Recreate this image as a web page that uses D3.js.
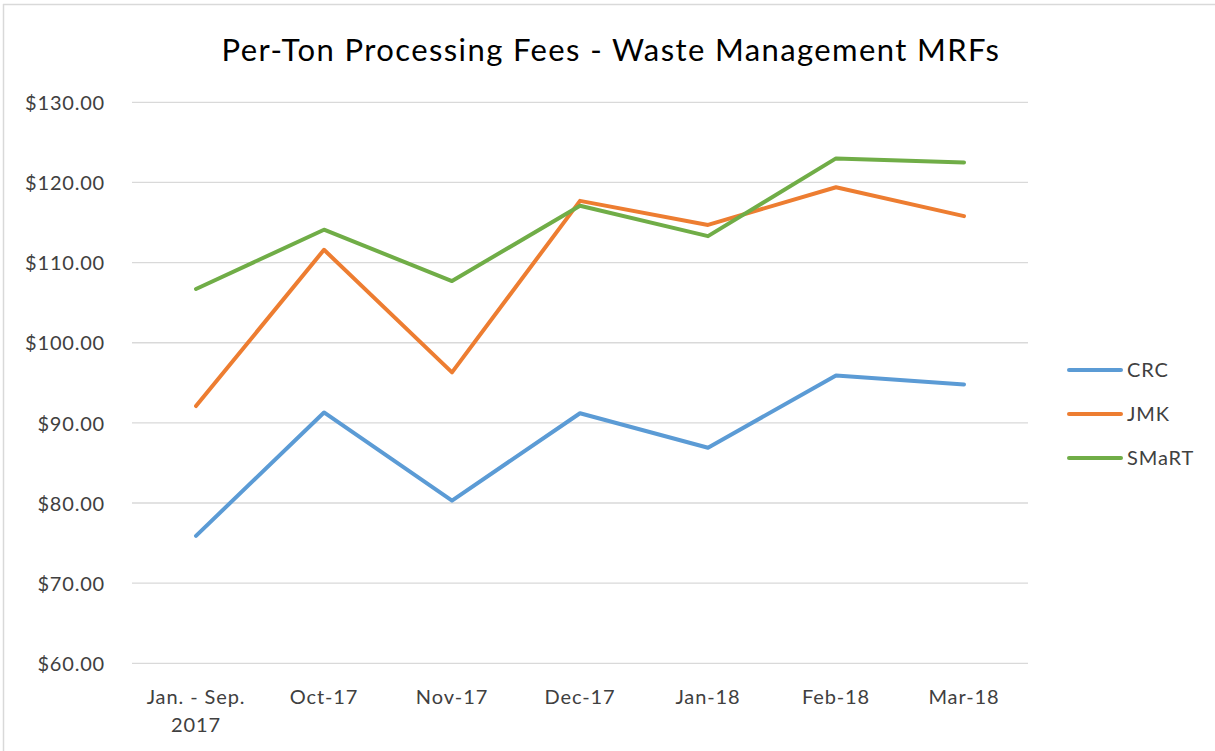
<!DOCTYPE html>
<html>
<head>
<meta charset="utf-8">
<script src="https://cdn.jsdelivr.net/npm/d3@7"></script>
<style>
  html, body { margin: 0; padding: 0; background: #fff; }
  svg { display: block; }
  text { font-family: Lato, "Open Sans", sans-serif; }
</style>
</head>
<body>
<svg id="chart" width="1215" height="751"></svg>
<script>
const title = "Per-Ton Processing Fees - Waste Management MRFs";
const categories = ["Jan. - Sep.\n2017", "Oct-17", "Nov-17", "Dec-17", "Jan-18", "Feb-18", "Mar-18"];
const seriesNames = ["CRC", "JMK", "SMaRT"];
const crc   = [75.9, 91.3, 80.3, 91.2, 86.9, 95.9, 94.8];
const jmk   = [92.1, 111.6, 96.3, 117.7, 114.7, 119.4, 115.8];
const smart = [106.7, 114.1, 107.7, 117.1, 113.3, 123.0, 122.5];
const yTicks = [60, 70, 80, 90, 100, 110, 120, 130];
const colors = ["#5B9BD5", "#ED7D31", "#70AD47"];

const seriesData = [crc, jmk, smart];
const svg = d3.select("#chart");
const W = 1215, H = 751;
const plot = { left: 132, right: 1028, top: 102.3, bottom: 663.3 };
const labelColor = "#404040";

// outer frame (top + left edges visible)
svg.append("line").attr("x1", 3).attr("x2", W).attr("y1", 4.5).attr("y2", 4.5)
  .attr("stroke", "#d9d9d9").attr("stroke-width", 1.5);
svg.append("line").attr("x1", 3.5).attr("x2", 3.5).attr("y1", 4).attr("y2", H)
  .attr("stroke", "#d9d9d9").attr("stroke-width", 1.5);

const x = d3.scaleBand().domain(d3.range(categories.length)).range([plot.left, plot.right]);
const y = d3.scaleLinear().domain([60, 130]).range([plot.bottom, plot.top]);

// gridlines
svg.append("g").selectAll("line").data(yTicks).join("line")
  .attr("x1", plot.left).attr("x2", plot.right)
  .attr("y1", d => y(d)).attr("y2", d => y(d))
  .attr("stroke", "#d9d9d9").attr("stroke-width", 1.3);

// y axis
const yAxis = d3.axisLeft(y).tickValues(yTicks).tickSize(0).tickPadding(0)
  .tickFormat(d => "$" + d3.format(".2f")(d));
const gy = svg.append("g").attr("transform", `translate(105,0)`).call(yAxis);
gy.select(".domain").remove();
gy.selectAll("text").attr("fill", labelColor).style("font-size", "20px")
  .style("letter-spacing", "0.8px")
  .style("font-family", "Lato, 'Open Sans', sans-serif").attr("dy", "0.36em");

// x axis
const xAxis = d3.axisBottom(x).tickSize(0).tickFormat(() => "");
const gx = svg.append("g").attr("transform", `translate(0,${plot.bottom})`).call(xAxis);
gx.select(".domain").remove();
gx.selectAll(".tick").each(function(d) {
  const lines = categories[d].split("\n");
  const t = d3.select(this).append("text").attr("fill", labelColor)
    .attr("text-anchor", "middle").style("font-size", "20px").style("letter-spacing", "0.9px");
  lines.forEach((ln, i) => {
    t.append("tspan").attr("x", 0).attr("y", 41 + i * 28).text(ln);
  });
});

// lines
const line = d3.line().x((d, i) => x(i) + x.bandwidth() / 2).y(d => y(d));
seriesData.forEach((s, k) => {
  svg.append("path").datum(s).attr("d", line)
    .attr("fill", "none").attr("stroke", colors[k]).attr("stroke-width", 4)
    .attr("stroke-linejoin", "round").attr("stroke-linecap", "round");
});

// legend
const legend = svg.append("g");
seriesNames.forEach((n, k) => {
  const ly = 370 + k * 44;
  legend.append("line").attr("x1", 1069).attr("x2", 1121).attr("y1", ly).attr("y2", ly)
    .attr("stroke", colors[k]).attr("stroke-width", 4).attr("stroke-linecap", "round");
  legend.append("text").attr("x", 1127).attr("y", ly).attr("dy", "0.36em")
    .attr("fill", labelColor).style("font-size", "20px").style("letter-spacing", "0.9px").text(n);
});

// title
svg.append("text").attr("x", 611).attr("y", 61).attr("text-anchor", "middle")
  .attr("fill", "#000").style("font-size", "31px").style("letter-spacing", "1.4px").text(title);
</script>
</body>
</html>
